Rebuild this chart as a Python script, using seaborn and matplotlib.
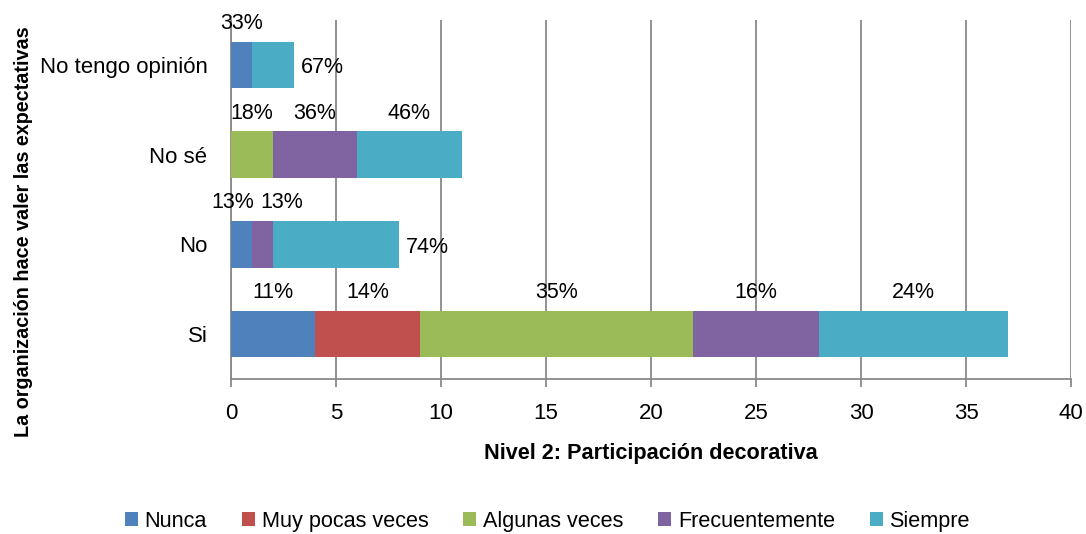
import matplotlib
matplotlib.use('Agg')
import numpy as np
import pandas as pd
import matplotlib.pyplot as plt
import seaborn as sns

sns.set_theme(style='white')
plt.rcParams['font.family'] = ['Liberation Sans', 'DejaVu Sans']
plt.rcParams['text.color'] = 'black'
plt.rcParams['axes.labelcolor'] = 'black'

# Data (categories listed bottom to top as in the picture)
categories = ['Si', 'No', 'No sé', 'No tengo opinión']
series = ['Nunca', 'Muy pocas veces', 'Algunas veces', 'Frecuentemente', 'Siempre']
nunca = [4, 1, 0, 1]
muy_pocas = [5, 0, 0, 0]
algunas = [13, 0, 2, 0]
frecuente = [6, 1, 4, 0]
siempre = [9, 6, 5, 2]

nunca_pct = ['11%', '13%', '', '33%']
muy_pocas_pct = ['14%', '', '', '']
algunas_pct = ['35%', '', '18%', '']
frecuente_pct = ['16%', '13%', '36%', '']
siempre_pct = ['24%', '74%', '46%', '67%']

colors = ['#4F81BD', '#C0504D', '#9BBB59', '#8064A2', '#4BACC6']
grid_gray = '#898989'

counts = pd.DataFrame([nunca, muy_pocas, algunas, frecuente, siempre],
                      index=series, columns=categories).T
pcts = pd.DataFrame([nunca_pct, muy_pocas_pct, algunas_pct, frecuente_pct, siempre_pct],
                    index=series, columns=categories).T
cum = counts.cumsum(axis=1)
order = categories[::-1]  # seaborn puts the first category on top

fig, ax = plt.subplots(figsize=(10.86, 5.34), dpi=100)
fig.subplots_adjust(left=0.2127, right=0.9862, bottom=0.2903, top=0.9625)

# stacked bars: draw running totals from the longest to the shortest
for s, c in zip(series[::-1], colors[::-1]):
    sns.barplot(x=cum[s].values, y=cum.index, order=order, orient='h',
                color=c, saturation=1, width=0.52, linewidth=0, ax=ax,
                label=s, zorder=3)

# percentage labels, above each segment unless Excel pushed them aside
bar_half = 0.26
nudge = {('No', 'Nunca'): -6, ('No', 'Frecuentemente'): 14}
for cat in categories:
    yi = order.index(cat)
    total = cum.loc[cat, 'Siempre']
    for s in series:
        txt = pcts.loc[cat, s]
        if not txt:
            continue
        end = cum.loc[cat, s]
        start = end - counts.loc[cat, s]
        if s == 'Siempre' and cat in ('No', 'No tengo opinión'):
            ax.annotate(txt, (total, yi), xytext=(5, -2), textcoords='offset points',
                        ha='left', va='center', fontsize=15.5, color='black', zorder=5)
        else:
            ax.annotate(txt, ((start + end) / 2, yi - bar_half),
                        xytext=(nudge.get((cat, s), 0), 13),
                        textcoords='offset points', ha='center', va='center',
                        fontsize=15.5, color='black', zorder=5)

ax.set_xlim(0, 40)
ax.set_ylim(3.5, -0.5)
ax.set_xticks(np.arange(0, 41, 5))
ax.grid(axis='x', color=grid_gray, linewidth=1.3, zorder=0)
ax.grid(axis='y', visible=False)
ax.set_axisbelow(True)
sns.despine(ax=ax, top=True, right=True)
for side in ('left', 'bottom'):
    ax.spines[side].set_color(grid_gray)
    ax.spines[side].set_linewidth(1.3)
ax.tick_params(axis='x', bottom=True, direction='out', length=6, width=1.3,
               color=grid_gray, pad=11, labelsize=16, labelcolor='black')
ax.tick_params(axis='y', left=False, pad=11, labelsize=16, labelcolor='black')

ax.set_xlabel('Nivel 2: Participación decorativa', fontsize=15.6,
              fontweight='bold', labelpad=14)
ax.set_ylabel('La organización hace valer las expectativas', fontsize=14.2,
              fontweight='bold')
ax.yaxis.set_label_coords(-0.236, 0.41)

handles, labels = ax.get_legend_handles_labels()
lut = dict(zip(labels, handles))
ax.legend([lut[s] for s in series], series, loc='lower center',
          bbox_to_anchor=(0.504, -0.012), bbox_transform=fig.transFigure, ncol=5,
          frameon=False, fontsize=15.6, handlelength=0.6, handleheight=0.6,
          handletextpad=0.32, columnspacing=1.6, borderaxespad=0.0)

fig.savefig('out.png', dpi=100)
